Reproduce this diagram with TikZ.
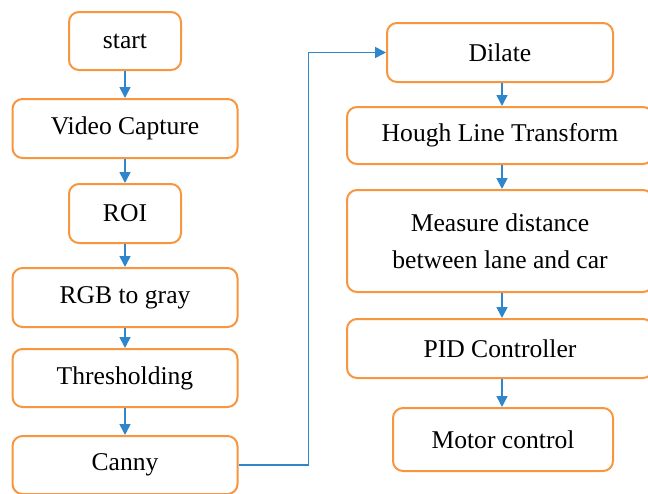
\documentclass[tikz,border=0pt]{standalone}
\usepackage{fontspec}
\setmainfont{Liberation Serif}
\usetikzlibrary{arrows.meta}
\definecolor{boxorange}{HTML}{F7963F}
\definecolor{linkblue}{HTML}{2F86CA}
\begin{document}
\begin{tikzpicture}[x=0.5pt,y=-0.5pt,
  box/.style={draw=boxorange,line width=1pt,rounded corners=5pt,fill=white,
    align=center,inner sep=0pt,font=\fontsize{12.8}{18.5}\selectfont},
  link/.style={draw=linkblue,line width=0.8pt,-{Triangle[length=5.5pt,width=5.5pt]}}]
\useasboundingbox (0,0) rectangle (648,493);
\node[box,minimum width=56pt,minimum height=29pt] (start) at (125,41) {start};
\node[box,minimum width=112.5pt,minimum height=29.5pt] (video) at (125,128.5) {Video Capture};
\node[box,minimum width=56pt,minimum height=29.5pt] (roi) at (125,213.5) {ROI};
\node[box,minimum width=112.5pt,minimum height=29.5pt] (rgb) at (125,297.5) {RGB to gray};
\node[box,minimum width=112.5pt,minimum height=29pt] (thr) at (125,378) {Thresholding};
\node[box,minimum width=112.5pt,minimum height=29pt] (canny) at (125,465) {Canny};
\node[box,minimum width=113pt,minimum height=29.5pt] (dilate) at (500,52.5) {Dilate};
\node[box,minimum width=153pt,minimum height=28.5pt] (hough) at (500,135.5) {Hough Line Transform};
\node[box,minimum width=153pt,minimum height=51pt] (measure) at (500,241) {Measure distance\\between lane and car};
\node[box,minimum width=153pt,minimum height=29.5pt] (pid) at (500,348.5) {PID Controller};
\node[box,minimum width=110pt,minimum height=31.5pt] (motor) at (503,439.5) {Motor control};
\draw[link] (start) -- (video);
\draw[link] (video) -- (roi);
\draw[link] (roi) -- (rgb);
\draw[link] (rgb) -- (thr);
\draw[link] (thr) -- (canny);
\draw[link] (dilate.south -| 502,0) -- (hough.north -| 502,0);
\draw[link] (hough.south -| 502,0) -- (measure.north -| 502,0);
\draw[link] (measure.south -| 502,0) -- (pid.north -| 502,0);
\draw[link] (pid.south -| 502,0) -- (motor.north -| 502,0);
\draw[link] (canny.east) -- ++(70,0) |- (dilate.west);
\end{tikzpicture}
\end{document}
